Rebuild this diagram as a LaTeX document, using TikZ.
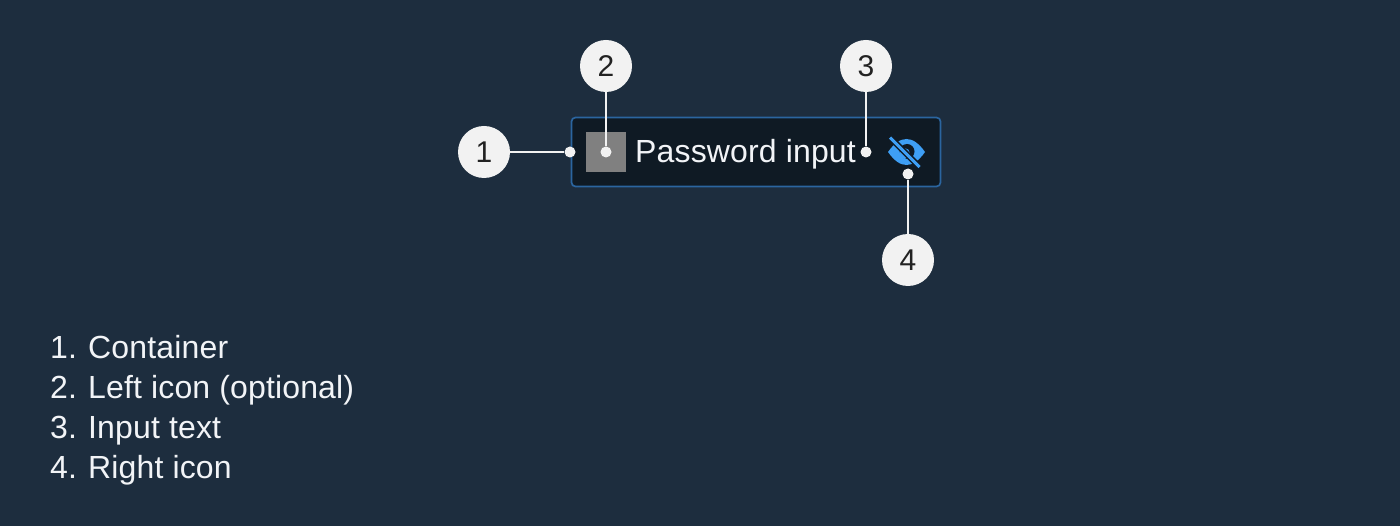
\documentclass[tikz,border=0pt]{standalone}
\usepackage{fontspec}
\setmainfont{Liberation Sans}
\newfontfamily\spacedfont[LetterSpace=0.5]{Liberation Sans}
\definecolor{bgc}{HTML}{1D2D3E}
\definecolor{boxc}{HTML}{0F1A24}
\definecolor{edgec}{HTML}{2B659F}
\definecolor{greyc}{HTML}{808080}
\definecolor{eyec}{HTML}{3E9FF5}
\definecolor{bubc}{HTML}{F2F2F2}
\definecolor{numc}{HTML}{222222}
\definecolor{txtc}{HTML}{F2F4F7}
\tikzset{
  bubble/.style={circle,fill=bubc,draw=none,minimum size=52pt,inner sep=0pt,text=numc,font=\fontsize{30}{30}\selectfont},
  dotm/.style={circle,fill=bubc,draw=none,minimum size=11pt,inner sep=0pt},
  lead/.style={draw=bubc,line width=2pt},
  listitem/.style={anchor=base west,inner sep=0pt,text=txtc,font=\spacedfont\fontsize{32}{32}\selectfont}
}
\begin{document}
\begin{tikzpicture}[x=1pt,y=-1pt]
\useasboundingbox (0,0) rectangle (1400,526);
\fill[bgc] (0,0) rectangle (1400,526);
\node[draw=edgec,fill=boxc,line width=1.7pt,rounded corners=4pt,minimum width=369pt,minimum height=69pt,inner sep=0pt] (box) at (756,152) {};
\node[fill=greyc,minimum size=40pt,inner sep=0pt] (lefticon) at (606,152) {};
\node[anchor=base west,inner sep=0pt,text=txtc,font=\spacedfont\fontsize{32}{32}\selectfont] (inputtext) at (635,162.7) {Password input};
% eye icon
\fill[eyec] (888,152) .. controls (894,143.5) and (900,139) .. (906.5,139) .. controls (913,139) and (919,143.5) .. (925,152) .. controls (919,160.5) and (913,165) .. (906.5,165) .. controls (900,165) and (894,160.5) .. (888,152) -- cycle;
\fill[boxc] (907,151.5) circle[radius=7.5];
\fill[eyec] (904.5,153.5) circle[radius=5.5];
\draw[boxc,line width=6pt] (889,136.5) -- (920,167.5);
\draw[eyec,line width=3pt] (890,137.5) -- (919.5,167);
\node[dotm] (d1) at (570,152) {};
\node[dotm] (d2) at (606,152) {};
\node[dotm] (d3) at (866,152) {};
\node[dotm] (d4) at (908,174) {};
\node[bubble] (b1) at (484,152) {1};
\node[bubble] (b2) at (606,66) {2};
\node[bubble] (b3) at (866,66) {3};
\node[bubble] (b4) at (908,260) {4};
\draw[lead] (b1) -- (d1);
\draw[lead] (b2) -- (d2);
\draw[lead] (b3) -- (d3);
\draw[lead] (b4) -- (d4);
\node[listitem] (n1) at (50,358.7) {1.};
\node[listitem] (t1) at (88,358.7) {Container};
\node[listitem] (n2) at (50,398.7) {2.};
\node[listitem] (t2) at (88,398.7) {Left icon (optional)};
\node[listitem] (n3) at (50,438.7) {3.};
\node[listitem] (t3) at (88,438.7) {Input text};
\node[listitem] (n4) at (50,478.7) {4.};
\node[listitem] (t4) at (88,478.7) {Right icon};
\end{tikzpicture}
\end{document}
